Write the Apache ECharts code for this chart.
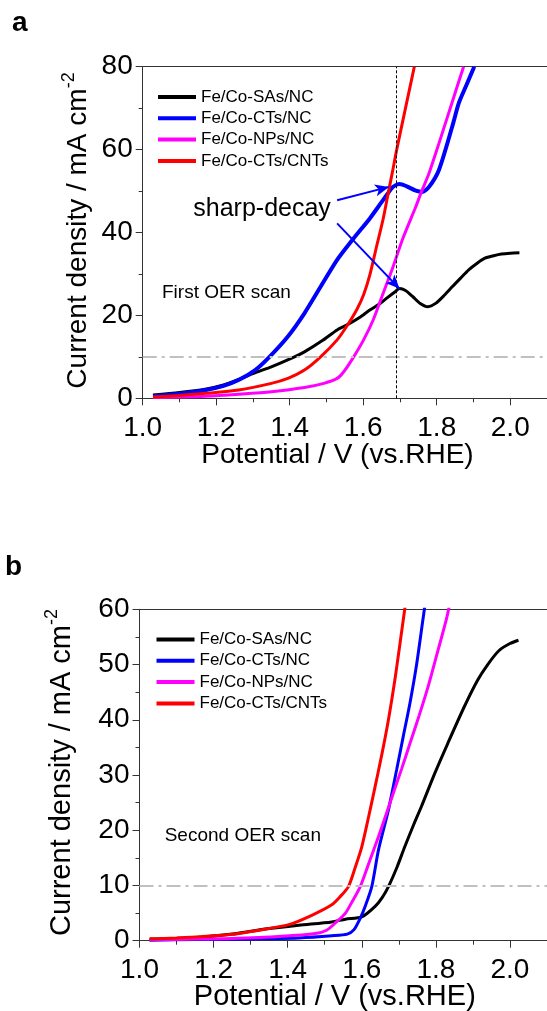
<!DOCTYPE html>
<html>
<head>
<meta charset="utf-8">
<script src="https://cdn.jsdelivr.net/npm/echarts@6/dist/echarts.min.js"></script>
<style>
html,body{margin:0;padding:0;background:#fff;}
#chart{width:547px;height:1011px;}
</style>
</head>
<body>
<div id="chart"></div>
<script>
// ---------- DATA ----------
const seriesNames = ['Fe/Co-SAs/NC', 'Fe/Co-CTs/NC', 'Fe/Co-NPs/NC', 'Fe/Co-CTs/CNTs'];
const seriesColors = ['#000000', '#0000ff', '#ff00ff', '#ff0000'];

// First OER scan (panel a)
const aSAsX = [1.028,1.10,1.17,1.22,1.268,1.31,1.35,1.413,1.44,1.49,1.529,1.556,1.59,1.618,1.645,1.663,1.685,1.699,1.715,1.735,1.755,1.776,1.797,1.82,1.842,1.865,1.887,1.91,1.931,1.955,1.976,2.0,2.025];
const aSAsY = [0.8,1.4,2.2,3.2,4.8,6.3,7.6,10.0,11.2,14.0,16.5,17.7,19.5,21.3,22.8,24.1,25.6,26.5,26.0,24.5,22.9,22.1,22.9,24.8,26.9,29.0,31.0,32.6,33.8,34.4,34.8,35.0,35.1];
const aCTsX = [1.028,1.10,1.172,1.22,1.261,1.306,1.345,1.395,1.44,1.484,1.529,1.574,1.618,1.654,1.681,1.699,1.717,1.743,1.761,1.779,1.806,1.842,1.860,1.880,1.902];
const aCTsY = [0.5,1.1,2.0,3.0,4.4,6.8,10.0,14.9,20.5,26.9,33.4,38.6,43.4,47.8,51.0,51.7,51.2,50.1,49.8,51.0,55.1,65.5,71.2,75.4,80.0];
const aNPsX = [1.028,1.10,1.172,1.261,1.35,1.44,1.493,1.529,1.547,1.574,1.601,1.627,1.654,1.681,1.708,1.743,1.757,1.779,1.806,1.84,1.873];
const aNPsY = [0.2,0.3,0.5,1.0,1.6,2.6,3.6,4.8,6.4,10.0,14.1,18.9,25.3,31.7,38.6,46.2,49.5,54.3,61.5,70.9,80.0];
const aCNTsX = [1.028,1.10,1.172,1.261,1.35,1.395,1.44,1.484,1.529,1.556,1.583,1.601,1.618,1.636,1.654,1.668,1.681,1.690,1.715,1.739];
const aCNTsY = [0.3,0.7,1.2,2.0,3.6,4.8,6.8,10.0,14.1,17.5,21.5,25.0,29.8,36.5,43.2,49.5,55.3,59.5,70.0,80.0];

// Second OER scan (panel b)
const bSAsX = [1.028,1.14,1.251,1.34,1.43,1.519,1.556,1.600,1.636,1.655,1.672,1.695,1.716,1.740,1.761,1.797,1.832,1.877,1.913,1.94,1.97,2.0,2.023];
const bSAsY = [0.3,0.5,1.2,2.1,2.8,3.4,3.9,4.3,6.2,7.8,9.8,13.3,17.0,21.0,24.3,30.3,35.7,42.4,47.2,50.0,52.5,53.8,54.4];
const bCTsX = [1.027,1.15,1.251,1.34,1.43,1.519,1.561,1.579,1.596,1.609,1.627,1.645,1.672,1.694,1.712,1.730,1.748,1.765,1.770];
const bCTsY = [0.1,0.2,0.25,0.35,0.5,0.9,1.2,2.0,4.1,6.2,9.8,16.4,23.7,30.9,37.0,43.0,50.0,58.1,60.5];
const bNPsX = [1.027,1.15,1.251,1.385,1.474,1.505,1.530,1.556,1.575,1.596,1.62,1.645,1.665,1.685,1.708,1.730,1.755,1.779,1.803,1.828,1.836];
const bNPsY = [0.15,0.3,0.4,0.8,1.3,1.9,3.3,5.0,7.2,9.8,14.2,18.8,22.7,26.7,31.2,35.7,40.8,46.0,51.9,58.1,60.5];
const bCNTsX = [1.027,1.10,1.161,1.251,1.34,1.403,1.465,1.519,1.542,1.564,1.582,1.600,1.618,1.636,1.655,1.672,1.690,1.712,1.717];
const bCNTsY = [0.3,0.5,0.7,1.15,2.1,2.9,4.6,6.5,8.0,9.8,13.2,17.0,22.3,27.9,34.0,40.0,47.5,58.1,60.5];

// axes
const xMin = 1.0, xMax = 2.1, xStep = 0.2;
const aYMax = 80, aYStep = 20;
const bYMax = 60, bYStep = 10;
const refCurrent = 10;          // dash-dot reference line
const aPeakPotential = 1.691;   // vertical dotted line in panel a
// arrows in panel a: [startX, startY, endX, endY]
const arrowA1 = [1.529, 47.8, 1.670, 51.0];
const arrowA2 = [1.529, 42.2, 1.699, 26.4];

// ---------- BUILD ----------
const zip = (xs, ys) => xs.map((x, i) => [x, ys[i]]);
const FONT = 'Liberation Sans, Arial, Helvetica, sans-serif';
const AX = '#333';

function xAxes(gridIndex, labelSize) {
  return [{
    type: 'value', gridIndex, min: xMin, max: xMax, interval: xStep, position: 'bottom',
    axisLine: { onZero: false, lineStyle: { color: AX, width: 1 } },
    axisTick: { length: 7, lineStyle: { color: AX } },
    minorTick: { show: true, splitNumber: 2, length: 4, lineStyle: { color: AX } },
    splitLine: { show: false },
    axisLabel: { fontSize: labelSize, color: '#000', fontFamily: FONT, margin: 16, showMaxLabel: false,
      formatter: v => v.toFixed(1) }
  }, {
    type: 'value', gridIndex, min: xMin, max: xMax, position: 'top',
    axisLine: { onZero: false, lineStyle: { color: AX, width: 1 } },
    axisTick: { show: false }, axisLabel: { show: false }, splitLine: { show: false }
  }];
}
function yAxis(gridIndex, max, step, labelSize) {
  return {
    type: 'value', gridIndex, min: 0, max, interval: step,
    axisLine: { show: true, onZero: false, lineStyle: { color: AX, width: 1 } },
    axisTick: { length: 7, lineStyle: { color: AX } },
    minorTick: { show: true, splitNumber: 2, length: 4, lineStyle: { color: AX } },
    splitLine: { show: false },
    axisLabel: { fontSize: labelSize, color: '#000', fontFamily: FONT, margin: 10 }
  };
}
function line(name, color, data, xi, yi, width, extra) {
  return Object.assign({
    type: 'line', name, data, xAxisIndex: xi, yAxisIndex: yi,
    showSymbol: false, symbol: 'none', smooth: 0.25, clip: true,
    lineStyle: { color, width }, itemStyle: { color }
  }, extra || {});
}
const refLineStyle = { color: '#c0c0c0', width: 2, type: [14, 5, 3, 5] };

const series = [
  line(seriesNames[0], seriesColors[0], zip(aSAsX, aSAsY), 0, 0, 3, {
    markLine: { silent: true, symbol: 'none', animation: false, label: { show: false },
      data: [
        { yAxis: refCurrent, lineStyle: refLineStyle },
        { xAxis: aPeakPotential, lineStyle: { color: '#000', width: 1, type: [3, 2] } }
      ] }
  }),
  line(seriesNames[1], seriesColors[1], zip(aCTsX, aCTsY), 0, 0, 4, {
    markLine: { silent: true, symbol: ['none', 'arrow'], symbolSize: [9, 14], animation: false,
      label: { show: false }, lineStyle: { color: '#0000ff', width: 2, type: 'solid' },
      data: [
        [{ coord: [arrowA1[0], arrowA1[1]] }, { coord: [arrowA1[2], arrowA1[3]] }],
        [{ coord: [arrowA2[0], arrowA2[1]] }, { coord: [arrowA2[2], arrowA2[3]] }]
      ] }
  }),
  line(seriesNames[2], seriesColors[2], zip(aNPsX, aNPsY), 0, 0, 3),
  line(seriesNames[3], seriesColors[3], zip(aCNTsX, aCNTsY), 0, 0, 3),
  line(seriesNames[0], seriesColors[0], zip(bSAsX, bSAsY), 2, 1, 3, {
    markLine: { silent: true, symbol: 'none', animation: false, label: { show: false },
      data: [{ yAxis: refCurrent, lineStyle: refLineStyle }] }
  }),
  line(seriesNames[1], seriesColors[1], zip(bCTsX, bCTsY), 2, 1, 3),
  line(seriesNames[2], seriesColors[2], zip(bNPsX, bNPsY), 2, 1, 3),
  line(seriesNames[3], seriesColors[3], zip(bCNTsX, bCNTsY), 2, 1, 3)
];

function legend(left, top) {
  return {
    data: seriesNames, orient: 'vertical', left, top, icon: 'rect',
    itemWidth: 38, itemHeight: 4, itemGap: 4.3, selectedMode: false,
    textStyle: { fontSize: 17, lineHeight: 17, color: '#000', fontFamily: FONT }
  };
}
function yTitle(x, y, size) {
  return {
    type: 'text', x, y, rotation: Math.PI / 2, silent: true,
    style: {
      text: '{m|Current density / mA cm}{s|-2}', align: 'center', verticalAlign: 'middle',
      rich: {
        m: { fontSize: size, fontFamily: FONT, fill: '#000', lineHeight: size + 8 },
        s: { fontSize: 18, fontFamily: FONT, fill: '#000', verticalAlign: 'top' }
      }
    }
  };
}
function txt(text, x, y, size, align, weight) {
  return { type: 'text', x, y, silent: true,
    style: { text, fontSize: size, fontFamily: FONT, fill: '#000', align: align || 'left',
      verticalAlign: 'middle', fontWeight: weight || 'normal' } };
}

const option = {
  animation: false,
  backgroundColor: '#fff',
  grid: [
    { left: 142.7, right: -6.3, top: 66.7, height: 331.6 },
    { left: 139.5, right: -2.8, top: 609.3, height: 331.4 }
  ],
  xAxis: [...xAxes(0, 28), ...xAxes(1, 28)],
  yAxis: [yAxis(0, aYMax, aYStep, 28), yAxis(1, bYMax, bYStep, 28)],
  legend: [legend(153, 83.5), legend(151.5, 626)],
  series,
  graphic: [
    txt('a', 12, 23.5, 28, 'left', 'bold'),
    txt('b', 5, 567, 28, 'left', 'bold'),
    yTitle(78, 230.5, 28),
    yTitle(62, 772.5, 29),
    txt('Potential / V (vs.RHE)', 337.5, 455, 28, 'center'),
    txt('Potential / V (vs.RHE)', 334.8, 997, 29, 'center'),
    txt('First OER scan', 162, 292.7, 19),
    txt('Second OER scan', 164.7, 836, 19),
    txt('sharp-decay', 193.3, 209.3, 25)
  ]
};

const chart = echarts.init(document.getElementById('chart'), null, { renderer: 'canvas' });
chart.setOption(option);
</script>
</body>
</html>
